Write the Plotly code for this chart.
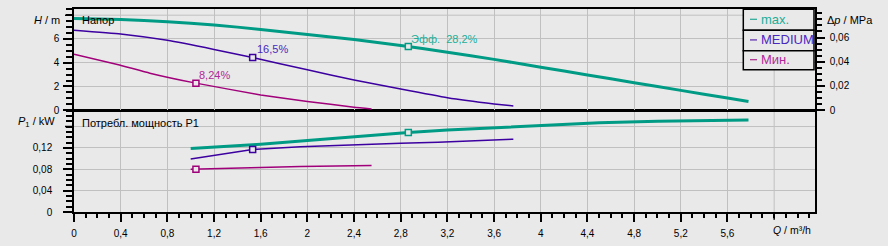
import plotly.graph_objects as go

# ---------------- data ----------------
q_max = [0, 0.4, 0.8, 1.2, 1.6, 2.0, 2.4, 2.8, 3.2, 3.6, 4.0, 4.4, 4.8, 5.2, 5.6, 5.78]
h_max = [7.72, 7.64, 7.45, 7.18, 6.8, 6.38, 5.95, 5.45, 4.88, 4.28, 3.62, 2.97, 2.32, 1.67, 1.02, 0.74]

q_med = [0, 0.4, 0.8, 1.2, 1.53, 2.0, 2.4, 2.8, 3.2, 3.6, 3.765]
h_med = [6.74, 6.42, 5.88, 5.12, 4.44, 3.40, 2.55, 1.78, 1.05, 0.53, 0.36]

q_min = [0, 0.39, 0.65, 1.045, 1.6, 2.0, 2.4, 2.55]
h_min = [4.72, 3.81, 3.12, 2.28, 1.29, 0.74, 0.25, 0.11]

qp_max = [1.0, 1.2, 1.6, 2.0, 2.4, 2.865, 3.2, 3.65, 4.0, 4.5, 5.0, 5.4, 5.78]
p_max = [0.1187, 0.1212, 0.127, 0.1338, 0.1412, 0.149, 0.1535, 0.158, 0.1625, 0.1672, 0.1698, 0.1712, 0.172]

qp_med = [1.0, 1.2, 1.53, 1.94, 2.4, 2.8, 3.12, 3.4, 3.57, 3.765]
p_med = [0.099, 0.106, 0.117, 0.122, 0.1262, 0.1285, 0.1305, 0.1325, 0.1345, 0.1364]

qp_min = [1.0, 1.2, 1.6, 1.94, 2.22, 2.55]
p_min = [0.080, 0.0815, 0.0835, 0.085, 0.0862, 0.0870]

eff_q = [2.865, 1.531, 1.045]
eff_h = [5.37, 4.44, 2.28]
eff_p = [0.149, 0.117, 0.080]
eff_labels = ["Эфф.  28,2%", "16,5%", "8,24%"]

legend_names = ["max.", "MEDIUM", "Мин."]
line_colors = ["#009b84", "#3c00a0", "#a0007a"]
label_colors = ["#1cae98", "#4a28c0", "#b0289a"]
line_widths = [3, 1.5, 1.5]

x_range = [0, 6.35]
h_range = [0, 8.52]
p_range = [0, 0.19]
MPA_PER_M = 0.0098067

x_ticks = [0, 0.4, 0.8, 1.2, 1.6, 2.0, 2.4, 2.8, 3.2, 3.6, 4.0, 4.4, 4.8, 5.2, 5.6]
x_ticklabels = ["0", "0,4", "0,8", "1,2", "1,6", "2", "2,4", "2,8", "3,2", "3,6", "4", "4,4", "4,8", "5,2", "5,6"]
x_extra_grid = 6.0
h_ticks = [0, 2, 4, 6]
h_ticklabels = ["0", "2", "4", "6"]
h_extra_grid = 8
p_ticks = [0, 0.04, 0.08, 0.12]
p_ticklabels = ["0", "0,04", "0,08", "0,12"]
p_extra_grid = 0.16
dp_ticks = [0, 0.02, 0.04, 0.06]
dp_ticklabels = ["0", "0,02", "0,04", "0,06"]

BG = "#e9e9e9"
GRID = "#c0c0c0"
FONT = "Liberation Sans"

W, H = 888, 246
L, R, T, B = 74, 73, 7, 31
PW, PH = W - L - R, H - T - B


def px2paper(px, py):
    return (px - L) / PW, (H - B - py) / PH


fig = go.Figure()

series_h = [(q_max, h_max), (q_med, h_med), (q_min, h_min)]
series_p = [(qp_max, p_max), (qp_med, p_med), (qp_min, p_min)]

for i in range(3):
    q, h = series_h[i]
    fig.add_trace(go.Scatter(x=q, y=h, mode="lines", xaxis="x2", yaxis="y2",
                             line=dict(color=line_colors[i], width=line_widths[i], shape="spline", smoothing=0.4),
                             showlegend=False, hoverinfo="skip"))
    q, p = series_p[i]
    fig.add_trace(go.Scatter(x=q, y=p, mode="lines", xaxis="x", yaxis="y",
                             line=dict(color=line_colors[i], width=line_widths[i]),
                             showlegend=False, hoverinfo="skip"))
    fig.add_trace(go.Scatter(x=[eff_q[i]], y=[eff_h[i]], mode="markers", xaxis="x2", yaxis="y2",
                             marker=dict(symbol="square", size=6, color=BG,
                                         line=dict(color=line_colors[i], width=1.5)),
                             showlegend=False, hoverinfo="skip"))
    fig.add_trace(go.Scatter(x=[eff_q[i]], y=[eff_p[i]], mode="markers", xaxis="x", yaxis="y",
                             marker=dict(symbol="square", size=6, color=BG,
                                         line=dict(color=line_colors[i], width=1.5)),
                             showlegend=False, hoverinfo="skip"))

# invisible trace for right axis
fig.add_trace(go.Scatter(x=[0], y=[0], xaxis="x2", yaxis="y3", mode="markers",
                         marker=dict(opacity=0), showlegend=False, hoverinfo="skip"))

annotations = []
shifts = [(1, 7), (2, 8), (1, 8)]
for i in range(3):
    annotations.append(dict(x=eff_q[i], y=eff_h[i], xref="x2", yref="y2", text=eff_labels[i],
                            showarrow=False, xanchor="left", yanchor="middle",
                            xshift=shifts[i][0], yshift=shifts[i][1],
                            font=dict(family=FONT, size=11, color=label_colors[i])))


def ann_px(px, py, text, xanchor="left", size=11, color="black"):
    x, y = px2paper(px, py)
    annotations.append(dict(x=x, y=y, xref="paper", yref="paper", text=text, showarrow=False,
                            xanchor=xanchor, yanchor="middle", font=dict(family=FONT, size=size, color=color)))


ann_px(80, 18, "Напор")
ann_px(80, 124, "Потребл. мощность P1")
ann_px(62, 18, "<i>H</i> / m", xanchor="right")
ann_px(57, 123, "<i>P</i><sub>1</sub> / kW", xanchor="right")
ann_px(825, 18, "Δ<i>p</i> / MPa")
ann_px(771, 233, "<i>Q</i> / m³/h", size=10.5)

shapes = []
# extra grid lines (where axis titles replace tick labels)
shapes.append(dict(type="line", xref="x", yref="y domain", x0=x_extra_grid, x1=x_extra_grid, y0=0, y1=1,
                   line=dict(color=GRID, width=1), layer="below"))
shapes.append(dict(type="line", xref="x2", yref="y2 domain", x0=x_extra_grid, x1=x_extra_grid, y0=0, y1=1,
                   line=dict(color=GRID, width=1), layer="below"))
shapes.append(dict(type="line", xref="x", yref="y domain", x0=x_extra_grid, x1=x_extra_grid, y0=0, y1=-8 / 104,
                   line=dict(color="black", width=1.5), layer="above"))
shapes.append(dict(type="line", xref="x2 domain", yref="y2", x0=0, x1=1, y0=h_extra_grid, y1=h_extra_grid,
                   line=dict(color=GRID, width=1), layer="below"))
shapes.append(dict(type="line", xref="x domain", yref="y", x0=0, x1=1, y0=p_extra_grid, y1=p_extra_grid,
                   line=dict(color=GRID, width=1), layer="below"))
shapes.append(dict(type="line", xref="x domain", yref="y2", x0=0, x1=-9 / PW, y0=h_extra_grid, y1=h_extra_grid,
                   line=dict(color="black", width=1.5), layer="above"))
shapes.append(dict(type="line", xref="x domain", yref="y", x0=0, x1=-9 / PW, y0=p_extra_grid, y1=p_extra_grid,
                   line=dict(color="black", width=1.5), layer="above"))

# legend box
rows = [7.3, 28.7, 49.7, 69.3]
x0, _ = px2paper(743.3, 0)
x1, _ = px2paper(814, 0)
for i in range(3):
    _, ya = px2paper(0, rows[i])
    _, yb = px2paper(0, rows[i + 1])
    shapes.append(dict(type="rect", xref="paper", yref="paper", x0=x0, x1=x1, y0=yb, y1=ya,
                       line=dict(color="black", width=1.5), fillcolor=BG, layer="above"))
    yc = (rows[i] + rows[i + 1]) / 2 - 0.5
    lx0, ly = px2paper(750, yc)
    lx1, _ = px2paper(757, yc)
    shapes.append(dict(type="line", xref="paper", yref="paper", x0=lx0, x1=lx1, y0=ly, y1=ly,
                       line=dict(color=line_colors[i], width=1), layer="above"))
    ann_px(759, yc, legend_names[i], size=13, color=label_colors[i])

tickfont = dict(family=FONT, size=10, color="black")

fig.update_layout(
    width=W, height=H,
    margin=dict(l=L, r=R, t=T, b=B, pad=0),
    paper_bgcolor=BG, plot_bgcolor=BG,
    showlegend=False,
    annotations=annotations,
    shapes=shapes,
    xaxis=dict(domain=[0, 1], range=x_range, tickmode="array", tickvals=x_ticks, ticktext=x_ticklabels,
               anchor="y", showgrid=True, gridcolor=GRID, gridwidth=1, zeroline=False,
               showline=True, linecolor="black", linewidth=1.5, mirror=True,
               ticks="outside", ticklen=8, tickcolor="black", tickwidth=1.5,
               tickfont=tickfont, ticklabelstandoff=3,
               minor=dict(tickmode="linear", dtick=0.1, tick0=0, ticks="outside", ticklen=4,
                          tickcolor="black", tickwidth=1.5, showgrid=False)),
    xaxis2=dict(domain=[0, 1], range=x_range, tickmode="array", tickvals=x_ticks, anchor="y2", matches="x",
                showgrid=True, gridcolor=GRID, gridwidth=1, zeroline=False,
                showline=True, linecolor="black", linewidth=1.5, mirror=True,
                showticklabels=False, ticks=""),
    yaxis=dict(domain=[0, 0.5], range=p_range, tickmode="array", tickvals=p_ticks, ticktext=p_ticklabels,
               anchor="x", showgrid=True, gridcolor=GRID, gridwidth=1, zeroline=False,
               showline=True, linecolor="black", linewidth=1.5, mirror=True,
               ticks="outside", ticklen=9, tickcolor="black", tickwidth=1.5,
               tickfont=tickfont, ticklabelstandoff=9,
               minor=dict(tickmode="linear", dtick=0.01, tick0=0, ticks="outside", ticklen=6,
                          tickcolor="black", tickwidth=1.5, showgrid=False)),
    yaxis2=dict(domain=[0.5014, 1], range=h_range, tickmode="array", tickvals=h_ticks, ticktext=h_ticklabels,
                anchor="x2", showgrid=True, gridcolor=GRID, gridwidth=1, zeroline=False,
                showline=True, linecolor="black", linewidth=1.5, mirror=True,
                ticks="outside", ticklen=9, tickcolor="black", tickwidth=1.5,
                tickfont=tickfont, ticklabelstandoff=2,
                minor=dict(tickmode="linear", dtick=0.5, tick0=0, ticks="outside", ticklen=6,
                           tickcolor="black", tickwidth=1.5, showgrid=False)),
    yaxis3=dict(range=[h_range[0] * MPA_PER_M, h_range[1] * MPA_PER_M], overlaying="y2", side="right",
                anchor="x2", tickmode="array", tickvals=dp_ticks, ticktext=dp_ticklabels,
                showgrid=False, zeroline=False,
                showline=True, linecolor="black", linewidth=1.5,
                ticks="outside", ticklen=8, tickcolor="black", tickwidth=1.5,
                tickfont=tickfont, ticklabelstandoff=3,
                minor=dict(tickmode="linear", dtick=0.005, tick0=0, ticks="outside", ticklen=5,
                           tickcolor="black", tickwidth=1.5, showgrid=False)),
)

fig.write_html("out.html")
